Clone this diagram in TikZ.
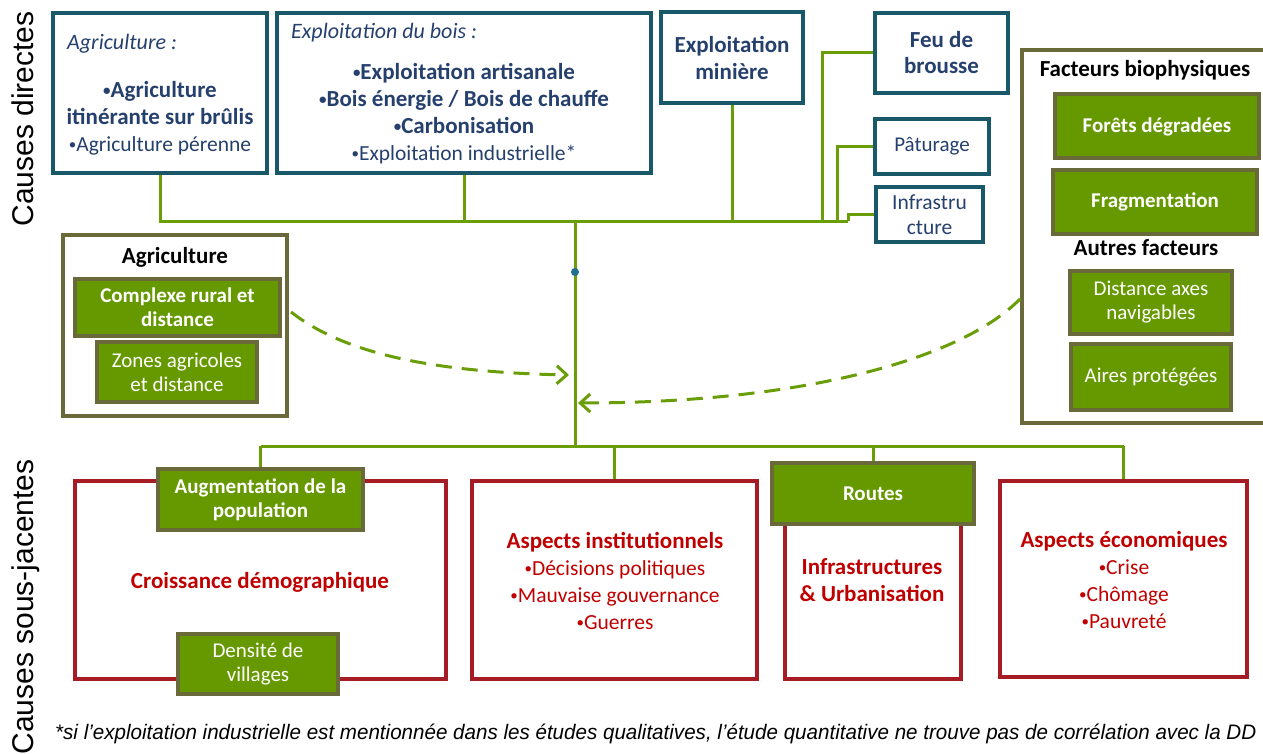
\documentclass[tikz,border=0pt]{standalone}
\usepackage{fontspec}
\setmainfont{Carlito}
\newfontfamily\arialf{Liberation Sans}
\usetikzlibrary{arrows.meta,backgrounds}
\definecolor{tealb}{RGB}{24,88,104}
\definecolor{tblue}{RGB}{38,64,110}
\definecolor{gline}{RGB}{106,158,8}
\definecolor{gfill}{RGB}{102,153,0}
\definecolor{olive}{RGB}{105,105,58}
\definecolor{redb}{RGB}{166,28,36}
\definecolor{redt}{RGB}{192,0,0}
\definecolor{dotc}{RGB}{31,112,140}
\newcommand{\gnf}{\fontsize{21}{24}\selectfont}
\newcommand{\nfnt}{\fontsize{21.5}{27}\selectfont}
\newcommand{\bfnt}{\fontsize{23}{27}\selectfont\bfseries}
\newcommand{\bul}{{\fontsize{15}{15}\selectfont\raisebox{2pt}{•}}}
\tikzset{
  tealbox/.style={draw=tealb,line width=4pt,fill=white,inner sep=0pt,text=tblue,align=center,font=\nfnt},
  framebox/.style={draw=olive,line width=3.5pt,fill=white,inner sep=0pt},
  gbox/.style={draw=olive,line width=4pt,fill=gfill,text=white,inner sep=0pt,align=center,font=\gnf},
  redbox/.style={draw=redb,line width=3.5pt,fill=white,inner sep=0pt},
  redtxt/.style={text=redt,align=center,inner sep=0pt,font=\nfnt},
  bluetxt/.style={text=tblue,align=center,inner sep=0pt,font=\nfnt},
  blacktitle/.style={text=black,inner sep=0pt,font=\bfnt},
  glink/.style={draw=gline,line width=3pt},
  dlink/.style={glink,dash pattern=on 16pt off 10pt,-{Straight Barb[length=10pt,width=18pt]}},
  sidelabel/.style={rotate=90,anchor=base,inner sep=0pt,font=\arialf\fontsize{30}{36}\selectfont},
}
\begin{document}
\begin{tikzpicture}[x=1pt,y=-1pt,line join=miter]
\useasboundingbox (0,0) rectangle (1263,754);
% side labels
\node[sidelabel] (sideD) at (33,119) {Causes directes};
\node[sidelabel] (sideS) at (33,607) {Causes sous-jacentes};

% top boxes
\node[tealbox,minimum width=214pt,minimum height=160pt] (b1) at (160,93) {};
\node[bluetxt,anchor=west,font=\fontsize{22}{27}\selectfont] (b1h) at (67,44) {\itshape Agriculture :};
\node[bluetxt] (b1t) at (160,118) {{\bfnt\bul Agriculture}\\{\bfnt itinérante sur brûlis}\\\bul Agriculture pérenne};

\node[tealbox,minimum width=374pt,minimum height=160pt] (b2) at (464,93) {};
\node[bluetxt,anchor=west,font=\fontsize{22}{27}\selectfont] (b2h) at (291,33) {\itshape Exploitation du bois :};
\node[bluetxt] (b2t) at (464,113.5) {{\bfnt\bul Exploitation artisanale}\\{\bfnt\bul Bois énergie / Bois de chauffe}\\{\bfnt\bul Carbonisation}\\\bul Exploitation industrielle*};

\node[tealbox,minimum width=142pt,minimum height=91pt,font=\bfnt] (b3) at (732,57.5) {Exploitation\\minière};
\node[tealbox,minimum width=133pt,minimum height=80pt,font=\fontsize{23}{26}\selectfont\bfseries] (b4) at (941.5,53) {Feu de\\brousse};
\node[tealbox,minimum width=114pt,minimum height=55pt,font=\fontsize{21}{25}\selectfont] (b5) at (932,146.5) {Pâturage};
\node[tealbox,minimum width=107pt,minimum height=55pt,font=\fontsize{21.5}{25}\selectfont] (b6) at (929.5,214.5) {Infrastru\\cture};

% left agriculture frame
\node[framebox,minimum width=224pt,minimum height=181pt] (agf) at (175,325.5) {};
\node[blacktitle] (agt) at (175,257) {Agriculture};
\node[gbox,minimum width=205pt,minimum height=57pt,font=\gnf\bfseries] (crd) at (177.5,307.5) {Complexe rural et\\distance};
\node[gbox,minimum width=160pt,minimum height=60pt] (zad) at (177,372) {Zones agricoles\\et distance};

% right biophysical frame
\node[framebox,minimum width=250pt,minimum height=373pt] (bio) at (1147,236.5) {};
\node[blacktitle] (biot) at (1145,70) {Facteurs biophysiques};
\node[gbox,minimum width=204pt,minimum height=64pt,font=\gnf\bfseries] (fd) at (1157,126.5) {Forêts dégradées};
\node[gbox,minimum width=204pt,minimum height=63pt,font=\gnf\bfseries] (fr) at (1155,202) {Fragmentation};
\node[blacktitle] (aut) at (1146,248) {Autres facteurs};
\node[gbox,minimum width=162pt,minimum height=63pt] (da) at (1151,302.5) {Distance axes\\navigables};
\node[gbox,minimum width=160pt,minimum height=66pt] (ap) at (1151,377) {Aires protégées};

% bottom boxes
\node[redbox,minimum width=371pt,minimum height=198pt] (A) at (260.5,580) {};
\node[redtxt,font=\bfnt] (At) at (260,582) {Croissance démographique};
\node[gbox,minimum width=205pt,minimum height=61pt,font=\gnf\bfseries] (aug) at (260.5,499.5) {Augmentation de la\\population};
\node[gbox,minimum width=160pt,minimum height=60pt] (den) at (258,664) {Densité de\\villages};

\node[redbox,minimum width=285pt,minimum height=198pt] (B) at (614.5,580) {};
\node[redtxt] (Bt) at (615,581) {{\bfnt Aspects institutionnels}\\\bul Décisions politiques\\\bul Mauvaise gouvernance\\\bul Guerres};

\node[redbox,minimum width=176pt,minimum height=199pt] (C) at (873,579.5) {};
\node[gbox,minimum width=202pt,minimum height=61pt,font=\gnf\bfseries] (routes) at (873,493.5) {Routes};
\node[redtxt,font=\bfnt] (Ct) at (872,580.5) {Infrastructures\\\& Urbanisation};

\node[redbox,minimum width=247pt,minimum height=196pt] (D) at (1123.5,579) {};
\node[redtxt] (Dt) at (1124,580) {{\bfnt Aspects économiques}\\\bul Crise\\\bul Chômage\\\bul Pauvreté};

% connectors
\begin{scope}[on background layer]
\coordinate (hR) at (848,221);
\coordinate (k4) at (822,221);
\coordinate (k5) at (837,221);
\coordinate (tT) at (575,221);
\coordinate (tB) at (575,446);
\draw[glink] (b1.south) |- (hR);
\draw[glink] (b2.south) -- (b2.south |- hR);
\draw[glink] (b3.south) -- (b3.south |- hR);
\draw[glink] (b4.west) -| (k4);
\draw[glink] (b5.west) -| (k5);
\draw[glink] (b6.west) -| (hR);
\draw[glink] (tT) -- (tB);
\coordinate (bL) at (aug.north |- tB);
\coordinate (bR) at (D.north |- tB);
\draw[glink] (bL) -- (bR);
\draw[glink] (bL) -- (aug.north);
\draw[glink] (B.north |- tB) -- (B.north);
\draw[glink] (routes.north |- tB) -- (routes.north);
\draw[glink] (bR) -- (D.north);
\end{scope}
\node[circle,fill=dotc,inner sep=0pt,minimum size=8pt] (dot) at (575,272) {};

% dashed arrows
\coordinate (a1s) at (291,312);
\coordinate (a1e) at (569,375);
\coordinate (a2s) at (1020,299);
\coordinate (a2e) at (578,403);
\draw[dlink] (a1s) .. controls (340,350) and (420,372) .. (a1e);
\draw[dlink] (a2s) .. controls (960,360) and (800,403) .. (a2e);

% footnote
\node[anchor=base west,inner sep=0pt,font=\arialf\itshape\fontsize{21}{24}\selectfont] (foot) at (55,739) {\scalebox{0.98}[1]{*si l’exploitation industrielle est mentionnée dans les études qualitatives, l’étude quantitative ne trouve pas de corrélation avec la DD}};
\end{tikzpicture}
\end{document}
